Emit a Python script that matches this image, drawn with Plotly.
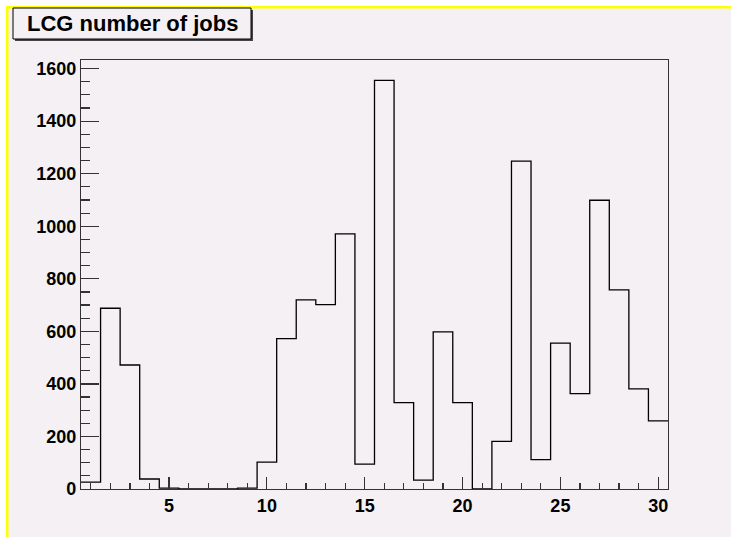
import plotly.graph_objects as go

# ---- data ----
bin_centers = list(range(1, 31))
job_counts = [26, 688, 472, 38, 3, 0, 0, 0, 3, 102,
              572, 720, 702, 971, 95, 1555, 329, 34, 598, 329,
              0, 181, 1248, 112, 555, 363, 1099, 758, 381, 259]
title_text = "LCG number of jobs"
x_tick_vals = [5, 10, 15, 20, 25, 30]
y_tick_vals = [0, 200, 400, 600, 800, 1000, 1200, 1400, 1600]

# ---- step outline from bin edges ----
bin_width = 1.0
edges = [c - bin_width / 2 for c in bin_centers] + [bin_centers[-1] + bin_width / 2]
step_y = job_counts + [job_counts[-1]]

BG = "#f4f0f4"
YEL = "#ffff00"
FONT = "Liberation Sans, Arial, Helvetica, sans-serif"
W, H = 731, 537
L, R, T, B = 81, 63, 60, 48

fig = go.Figure()
fig.add_trace(go.Scatter(
    x=edges, y=step_y, mode="lines",
    line=dict(shape="hv", color="black", width=1.3),
    hoverinfo="skip", showlegend=False,
))

axis_common = dict(
    showline=True, linecolor="#333333", linewidth=1.2, mirror=True,
    showgrid=False, zeroline=False,
    ticks="inside", tickcolor="#333333", tickwidth=1.2,
    tickfont=dict(family=FONT, size=18, color="black", weight="bold"),
)

fig.update_xaxes(
    range=[edges[0], edges[-1]],
    tickmode="array", tickvals=x_tick_vals, ticklen=12,
    minor=dict(ticks="inside", dtick=1, tick0=0, ticklen=6,
               tickcolor="#333333", tickwidth=1.2, showgrid=False),
    **axis_common,
)
fig.update_yaxes(
    range=[0, max(job_counts) * 1.05],
    tickmode="array", tickvals=y_tick_vals, ticklen=18,
    minor=dict(ticks="inside", dtick=50, tick0=0, ticklen=9,
               tickcolor="#333333", tickwidth=1.2, showgrid=False),
    **axis_common,
)


def px_rect(x0, y0, x1, y1, **kw):
    """Rectangle given in page pixels (origin top-left)."""
    return dict(type="rect", xref="paper", yref="paper",
                xsizemode="pixel", ysizemode="pixel", xanchor=0, yanchor=1,
                x0=x0 - L, x1=x1 - L, y0=T - y1, y1=T - y0, **kw)


shapes = [
    px_rect(6, 6, W, H, fillcolor=BG, line=dict(width=0), layer="below"),
    px_rect(6, 6, W, 8.5, fillcolor=YEL, line=dict(width=0), layer="below"),
    px_rect(6, 6, 8.5, H, fillcolor=YEL, line=dict(width=0), layer="below"),
    px_rect(15, 10, 253, 41, fillcolor="#444444", line=dict(width=0)),
    px_rect(13, 8, 251, 39, fillcolor=BG, line=dict(color="black", width=1)),
]

fig.add_annotation(
    text=title_text, xref="paper", yref="paper", x=0, y=1,
    xshift=132 - L, yshift=T - 23.5, xanchor="center", yanchor="middle",
    showarrow=False, font=dict(family=FONT, size=22, color="black", weight="bold"),
)

fig.update_layout(
    width=W, height=H,
    margin=dict(l=L, r=R, t=T, b=B, pad=0),
    paper_bgcolor="white", plot_bgcolor=BG,
    shapes=shapes, showlegend=False,
)

fig.write_html(
    "out.html",
    config={"displayModeBar": False, "staticPlot": True},
    post_script="document.body.style.margin='0';document.body.style.padding='0';document.body.style.overflow='hidden';",
)
